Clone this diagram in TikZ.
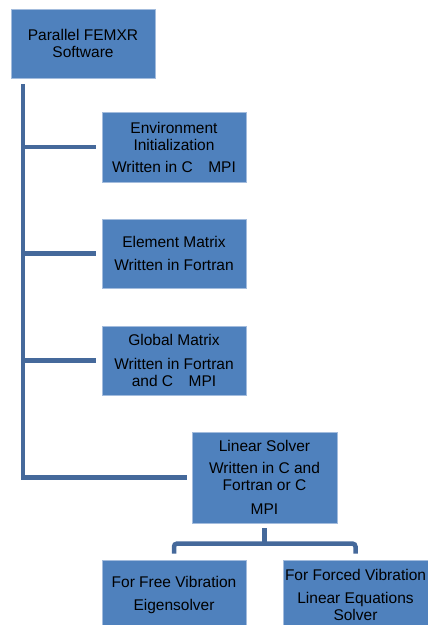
\documentclass[tikz,border=0pt]{standalone}
\usepackage{fontspec}
\setmainfont{Liberation Sans}
\definecolor{boxfill}{HTML}{4F81BD}
\definecolor{boxedge}{HTML}{A3BCDD}
\definecolor{linkc}{HTML}{45699B}
\begin{document}
\begin{tikzpicture}[x=1pt,y=-1pt,
  box/.style={draw=boxedge, line width=0.8pt, fill=boxfill, minimum width=144pt,
    inner sep=0pt, align=center, font=\fontsize{15.5}{17.5}\selectfont, text=black},
  link/.style={draw=linkc, line width=4.5pt}]
\useasboundingbox (0,0) rectangle (428,625);
\clip (0,0) rectangle (428,625);
\node[box, minimum height=69pt] (top) at (83,43.5) {Parallel FEMXR\\Software};
\node[box, minimum height=70pt] (b2) at (174,147) {Environment\\Initialization\\[4pt]Written in C\quad MPI};
\node[box, minimum height=69pt] (b3) at (174,253.5) {Element Matrix\\[6pt]Written in Fortran};
\node[box, minimum height=69pt] (b4) at (174,360.5) {Global Matrix\\[6pt]Written in Fortran\\and C\quad MPI};
\node[box, minimum height=91pt, minimum width=145pt] (b5) at (264.5,477.5) {Linear Solver\\[4pt]Written in C and\\Fortran or C\\[6pt]MPI};
\node[box, minimum height=70pt] (b6) at (174,595) {For Free Vibration\\[6pt]Eigensolver};
\node[box, minimum height=70pt, minimum width=145pt] (b7) at (355.5,595) {For Forced Vibration\\[5pt]Linear Equations\\Solver};
\coordinate (s) at (23,84);
\draw[link] (s) |- ([xshift=-5pt]b5.west);
\draw[link] (s |- b2.west) -- ([xshift=-6pt]b2.west);
\draw[link] (s |- b3.west) -- ([xshift=-6pt]b3.west);
\draw[link] (s |- b4.west) -- ([xshift=-6pt]b4.west);
\draw[link] ([yshift=-5pt]b5.south) -- ++(0,16);
\draw[link, rounded corners=3pt] ([yshift=6pt]b6.north) -- ++(0,-10) -| ([yshift=6pt]b7.north);
\end{tikzpicture}
\end{document}
